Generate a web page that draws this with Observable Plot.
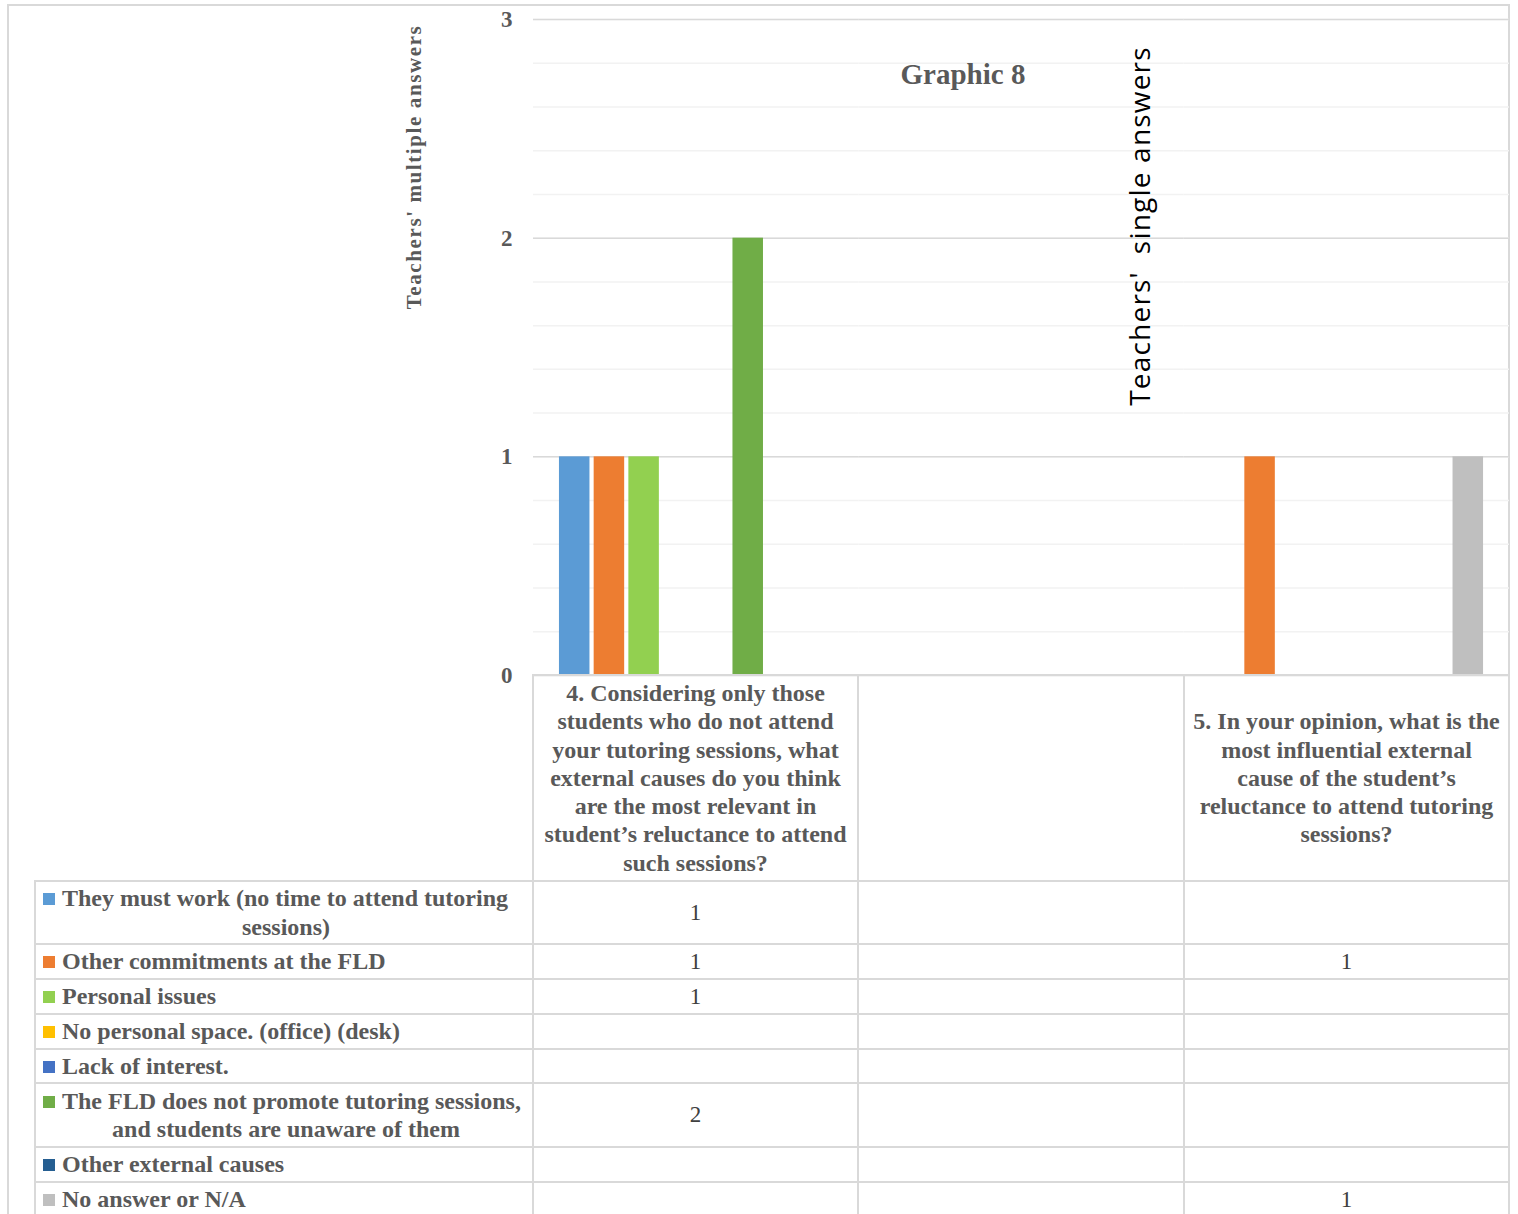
<!DOCTYPE html>
<html>
<head>
<meta charset="utf-8">
<script src="https://cdn.jsdelivr.net/npm/d3@7"></script>
<script src="https://cdn.jsdelivr.net/npm/@observablehq/plot@0.6"></script>
<style>
  html, body { margin: 0; padding: 0; background: #fff; overflow: hidden; }
  #page { position: relative; width: 1518px; height: 1214px; overflow: hidden; font-family: "Liberation Serif", "Times New Roman", serif; }
  #frame { position: absolute; left: 7px; top: 4px; width: 1503px; height: 1300px; border: 2px solid #d9d9d9; box-sizing: border-box; }
  #plot { position: absolute; left: 0; top: 0; }
  .label { position: absolute; white-space: nowrap; }
  #title { left: 963px; top: 58px; transform: translateX(-50%); font-size: 29px; font-weight: bold; color: #595959; }
  #ytitle { left: 414px; top: 167px; transform: translate(-50%, -50%) rotate(-90deg); font-size: 21px; font-weight: bold; color: #595959; letter-spacing: 1.6px; }
  #y2title { left: 1139px; top: 226px; transform: translate(-50%, -50%) rotate(-90deg); font-family: "Open Sans", sans-serif; font-size: 28px; color: #000; letter-spacing: 1.2px; }
  table { position: absolute; left: 34px; top: 674px; border-collapse: collapse; table-layout: fixed; }
  td { border: 2px solid #d9d9d9; padding: 0; }
  td.corner { border-top: none; border-left: none; }
  td.question { text-align: center; vertical-align: middle; font-weight: bold; font-size: 24px; line-height: 28.3px; color: #595959; padding: 0 7px; }
  td.name { font-weight: bold; font-size: 24px; line-height: 28.3px; color: #595959; padding: 0 3px 0 7px; vertical-align: middle; }
  td.value { text-align: center; vertical-align: middle; font-size: 23px; color: #404040; }
  .swatch { display: inline-block; width: 12px; height: 12px; margin-right: 7px; vertical-align: 1px; }
  .cont { text-align: center; }
</style>
</head>
<body>
<div id="page">
  <div id="frame"></div>
  <div id="plot"></div>
  <div id="title" class="label">Graphic 8</div>
  <div id="ytitle" class="label">Teachers' multiple answers</div>
  <div id="y2title" class="label">Teachers'&nbsp; single answers</div>
</div>
<script>
// Answer categories (legend / table rows) and their colours
const series = [
  "They must work (no time to attend tutoring sessions)",
  "Other commitments at the FLD",
  "Personal issues",
  "No personal space. (office) (desk)",
  "Lack of interest.",
  "The FLD does not promote tutoring sessions, and students are unaware of them",
  "Other external causes",
  "No answer or N/A"
];
const colors = ["#5b9bd5", "#ed7d31", "#92d050", "#ffc000", "#4472c4", "#70ad47", "#255e91", "#bfbfbf"];

// Survey questions (the middle column of the table is left blank)
const questions = [
  "4. Considering only those students who do not attend your tutoring sessions, what external causes do you think are the most relevant in student’s reluctance to attend such sessions?",
  "",
  "5. In your opinion, what is the most influential external cause of the student’s reluctance to attend tutoring sessions?"
];

// Counts per category for each question (null = no answer given)
const q4Counts = [1, 1, 1, null, null, 2, null, null];
const blankCounts = [null, null, null, null, null, null, null, null];
const q5Counts = [null, 1, null, null, null, null, null, 1];
const countsByQuestion = [q4Counts, blankCounts, q5Counts];

// Y-axis tick labels
const yTicks = [0, 1, 2, 3];

const rows = [];
questions.forEach((q, qi) => series.forEach((s, si) => rows.push({question: q, series: s, count: countsByQuestion[qi][si]})));

const chart = Plot.plot({
  width: 1509,
  height: 676,
  marginLeft: 533,
  marginRight: 0,
  marginTop: 19,
  marginBottom: 1,
  style: {fontFamily: "'Liberation Serif', serif", fontSize: "23px", fontWeight: "bold", color: "#595959", background: "transparent", overflow: "visible"},
  fx: {domain: questions, padding: 0, round: false, axis: null},
  x: {domain: series, paddingInner: 0.121, paddingOuter: 0.748, round: false, axis: null},
  y: {domain: [0, 3], axis: null},
  color: {domain: series, range: colors},
  marks: [
    Plot.gridY({ticks: 15, stroke: "#f2f2f2", strokeOpacity: 1, strokeWidth: 1.5}),
    Plot.gridY(yTicks, {stroke: "#d9d9d9", strokeOpacity: 1, strokeWidth: 1.5}),
    Plot.axisY(yTicks, {tickSize: 0, tickPadding: 21, tickFormat: d => String(d), label: null, fill: "#595959", fontSize: 23}),
    Plot.barY(rows, {fx: "question", x: "series", y: "count", fill: "series"})
  ]
});
document.getElementById("plot").appendChild(chart);

// Data table beneath the plot
const ctx = document.createElement("canvas").getContext("2d");
ctx.font = "bold 24px 'Liberation Serif'";
function wrapLines(text, width) {
  const words = text.split(" ");
  const lines = [];
  let line = "";
  for (const w of words) {
    const test = line ? line + " " + w : w;
    if (line && ctx.measureText(test).width > width) { lines.push(line); line = w; }
    else line = test;
  }
  if (line) lines.push(line);
  return lines;
}

const colWidths = [498, 325, 326, 325];
const rowHeights = [63, 35, 35, 35, 34, 64, 35, 35];
const table = document.createElement("table");
const colgroup = document.createElement("colgroup");
colWidths.forEach(w => { const c = document.createElement("col"); c.style.width = w + "px"; colgroup.appendChild(c); });
table.appendChild(colgroup);

const head = document.createElement("tr");
head.style.height = "206px";
const corner = document.createElement("td");
corner.className = "corner";
head.appendChild(corner);
questions.forEach(q => {
  const td = document.createElement("td");
  td.className = "question";
  td.textContent = q;
  head.appendChild(td);
});
table.appendChild(head);

series.forEach((s, si) => {
  const tr = document.createElement("tr");
  tr.style.height = rowHeights[si] + "px";
  const name = document.createElement("td");
  name.className = "name";
  const lines = wrapLines(s, 466);
  lines.forEach((ln, li) => {
    const div = document.createElement("div");
    if (li === 0) {
      const sw = document.createElement("span");
      sw.className = "swatch";
      sw.style.background = colors[si];
      div.appendChild(sw);
    } else div.className = "cont";
    div.appendChild(document.createTextNode(ln));
    name.appendChild(div);
  });
  tr.appendChild(name);
  countsByQuestion.forEach(counts => {
    const td = document.createElement("td");
    td.className = "value";
    td.textContent = counts[si] == null ? "" : counts[si];
    tr.appendChild(td);
  });
  table.appendChild(tr);
});
document.getElementById("page").appendChild(table);
</script>
</body>
</html>
